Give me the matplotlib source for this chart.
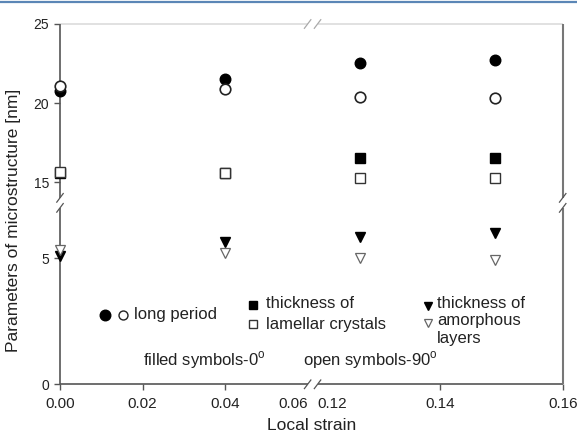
import numpy as np
import matplotlib.pyplot as plt
from matplotlib.lines import Line2D

plt.rcParams['font.family'] = ['Liberation Sans', 'DejaVu Sans']

# local strain of the four samples
strain = [0.0, 0.04, 0.127, 0.149]

# long period
long_period_0 = [20.78, 21.50, 22.55, 22.72]
long_period_90 = [21.08, 20.87, 20.40, 20.34]

# thickness of lamellar crystals
lamellar_0 = [15.6, 15.6, 16.52, 16.54]
lamellar_90 = [15.61, 15.60, 15.27, 15.23]

# thickness of amorphous layers
amorphous_0 = [5.09, 5.66, 5.86, 5.99]
amorphous_90 = [5.33, 5.20, 5.02, 4.93]

x_ticks = [0.0, 0.02, 0.04, 0.06, 0.12, 0.14, 0.16]
x_ticklabels = ['0.00', '0.02', '0.04', '0.06', '0.12', '0.14', '0.16']
y_ticks = [0, 5, 15, 20, 25]

# broken axes: piecewise linear scales with a short gap at each break
X_BREAK = ([0.0, 0.06, 0.12, 0.16], [0.0, 0.06, 0.0624, 0.1218])
Y_BREAK = ([0.0, 7.0, 14.0, 25.0], [0.0, 7.0, 7.397, 14.294])


def piecewise(src, dst):
    src = np.asarray(src, float)
    dst = np.asarray(dst, float)
    k0 = (dst[1] - dst[0]) / (src[1] - src[0])
    k1 = (dst[-1] - dst[-2]) / (src[-1] - src[-2])

    def f(v):
        v = np.asarray(v, float)
        out = np.interp(v, src, dst)
        out = np.where(v < src[0], dst[0] + (v - src[0]) * k0, out)
        out = np.where(v > src[-1], dst[-1] + (v - src[-1]) * k1, out)
        return out
    return f


fig = plt.figure(figsize=(5.77, 4.37), dpi=100)
W, H = 577, 437
left, right, top, bottom = 60, 562.7, 24, 384.3
ax = fig.add_axes([left / W, 1 - bottom / H, (right - left) / W, (bottom - top) / H])

ax.set_xscale('function', functions=(piecewise(*X_BREAK), piecewise(X_BREAK[1], X_BREAK[0])))
ax.set_yscale('function', functions=(piecewise(*Y_BREAK), piecewise(Y_BREAK[1], Y_BREAK[0])))
ax.set_xlim(0, 0.16)
ax.set_ylim(0, 25)

ms_c, ms_s, ms_t = 7.6, 6.6, 7.0
pkw = dict(clip_on=False, ls='none')
ax.plot(strain, lamellar_0, 's', ms=ms_s, color='black', zorder=6, **pkw)
ax.plot(strain, lamellar_90, 's', ms=ms_s, mfc='white', mec='#333333', mew=1.0, zorder=7, **pkw)
ax.plot(strain, long_period_0, 'o', ms=ms_c, color='black', zorder=6, **pkw)
ax.plot(strain, long_period_90, 'o', ms=ms_c, mfc='white', mec='#222222', mew=1.2, zorder=7, **pkw)
ax.plot(strain, amorphous_0, 'v', ms=ms_t, color='black', zorder=6, **pkw)
ax.plot(strain, amorphous_90, 'v', ms=ms_t, mfc='white', mec='#666666', mew=0.9, zorder=7, **pkw)

# ticks
ax.set_xticks(x_ticks)
ax.set_xticklabels(x_ticklabels)
ax.set_yticks(y_ticks)
ax.tick_params(axis='x', direction='out', length=4, width=1, color='#555555',
               labelsize=11, labelcolor='#222222', pad=5)
ax.tick_params(axis='y', direction='out', length=4, width=1, color='#555555',
               labelsize=10, labelcolor='#222222', pad=4)
xt = ax.xaxis.get_major_ticks()
for i in (3, 4):
    xt[i].tick1line.set_visible(False)
labels = ax.get_xticklabels()
labels[3].set_horizontalalignment('right')
labels[4].set_horizontalalignment('left')
ax.xaxis.get_majorticklabels()[3].set_x(0.0615)
ax.xaxis.get_majorticklabels()[4].set_x(0.1195)

ax.set_xlabel('Local strain', fontsize=12.5, color='#222222', labelpad=5)
ax.set_ylabel('Parameters of microstructure [nm]', fontsize=12.5, color='#222222')
ax.yaxis.set_label_coords(-0.078, 0.455)

# spines are drawn by hand so they can be interrupted at the breaks
for s in ax.spines.values():
    s.set_visible(False)

fx = piecewise(*X_BREAK)
fy = piecewise(*Y_BREAK)
xa = lambda v: float(fx(v) / fx(0.16))
ya = lambda v: float(fy(v) / fy(25))
xg0, xg1 = xa(0.06), xa(0.12)
yg0, yg1 = ya(7), ya(14)


def seg(x0, y0, x1, y1, color, lw=1.2):
    ax.add_line(Line2D([x0, x1], [y0, y1], transform=ax.transAxes, color=color,
                       lw=lw, clip_on=False, solid_capstyle='butt', zorder=5))


dark, mid, light = '#555555', '#777777', '#dcdcdc'
seg(0, 0, xg0, 0, dark)
seg(xg1, 0, 1, 0, dark)
seg(0, 1, xg0, 1, light)
seg(xg1, 1, 1, 1, light)
seg(0, 0, 0, yg0, dark)
seg(0, yg1, 0, 1, dark)
seg(1, 0, 1, yg0, mid, 1.5)
seg(1, yg1, 1, 1, mid, 1.5)

# break marks
dx, dy = 6 / (right - left), 8 / (bottom - top)
for xb in (xg0, xg1):
    seg(xb - dx * 0.6, -dy * 0.6, xb + dx * 0.6, dy * 0.6, dark, 0.9)
    seg(xb - dx * 0.6, 1 - dy * 0.6, xb + dx * 0.6, 1 + dy * 0.6, '#aaaaaa', 0.9)
for yb in (yg0, yg1):
    seg(-dx * 0.6, yb - dy * 0.6, dx * 0.6, yb + dy * 0.6, dark, 0.9)
    seg(1 - dx * 0.6, yb - dy * 0.6, 1 + dx * 0.6, yb + dy * 0.6, dark, 0.9)

# key drawn inside the plot area
tkw = dict(fontsize=12, color='#222222', va='center', transform=fig.transFigure)
def fpos(px, py):
    return px / W, 1 - py / H

fig.lines.append(Line2D(*zip(fpos(105, 315)), marker='o', ms=ms_c, color='black',
                        transform=fig.transFigure))
fig.lines.append(Line2D(*zip(fpos(122.5, 315)), marker='o', ms=ms_c * 0.85, mfc='white',
                        mec='#222222', mew=1.0, transform=fig.transFigure))
fig.text(*fpos(134, 315), 'long period', **tkw)

fig.lines.append(Line2D(*zip(fpos(253, 305)), marker='s', ms=ms_s * 0.9, color='black',
                        transform=fig.transFigure))
fig.lines.append(Line2D(*zip(fpos(253, 324)), marker='s', ms=ms_s * 0.9, mfc='white',
                        mec='#333333', mew=1.0, transform=fig.transFigure))
fig.text(*fpos(266, 304), 'thickness of', **tkw)
fig.text(*fpos(266, 324), 'lamellar crystals', **tkw)

fig.lines.append(Line2D(*zip(fpos(428, 306)), marker='v', ms=ms_t * 0.85, color='black',
                        transform=fig.transFigure))
fig.lines.append(Line2D(*zip(fpos(428, 323)), marker='v', ms=ms_t * 0.85, mfc='white',
                        mec='#666666', mew=0.9, transform=fig.transFigure))
fig.text(*fpos(437, 303), 'thickness of', **tkw)
fig.text(*fpos(437, 321), 'amorphous', **tkw)
fig.text(*fpos(437, 338), 'layers', **tkw)

fig.text(*fpos(143, 360), 'filled symbols-0$^\\mathregular{o}$', **tkw)
fig.text(*fpos(303, 360), 'open symbols-90$^\\mathregular{o}$', **tkw)

# rule along the top edge of the page
fig.lines.append(Line2D([0, 1], [1 - 1.5 / H] * 2, color='#5b86b6', lw=1.6,
                        transform=fig.transFigure))

fig.savefig('out.png', dpi=100)
